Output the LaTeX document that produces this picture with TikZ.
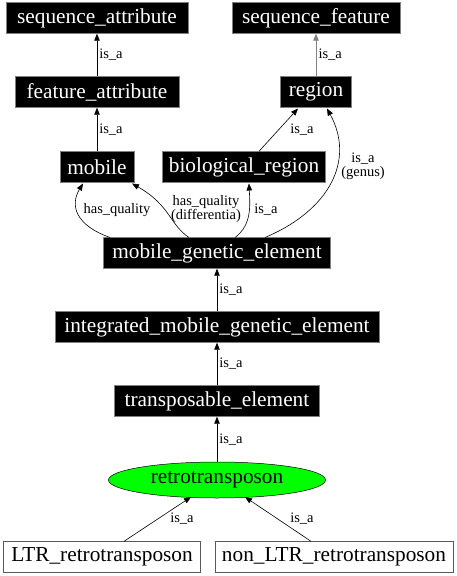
\documentclass[tikz,border=0pt]{standalone}
\usepackage{fontspec}
\setmainfont{Liberation Serif}
\usetikzlibrary{arrows.meta,shapes.geometric}
\begin{document}
\begin{tikzpicture}[x=1pt,y=-1pt,
  blk/.style={rectangle,fill=black,draw=gray,text=white,font=\fontsize{21.3}{24}\selectfont,inner sep=0pt,minimum height=31pt},
  wht/.style={rectangle,fill=white,draw=gray!70!black,text=black,font=\fontsize{21.3}{24}\selectfont,inner sep=0pt,minimum height=31pt},
  elab/.style={font=\fontsize{14.5}{12.5}\selectfont,inner sep=2pt,align=center},
  rel/.style={-{Triangle[length=7pt,width=5.5pt]},black,line width=0.6pt},
  relg/.style={-{Triangle[length=7pt,width=5.5pt]},gray,line width=1pt}]
\useasboundingbox (0,0) rectangle (457,576);
\fill[white] (0,0) rectangle (457,576);
\node[blk,minimum width=182pt] (sa) at (97,18) {sequence\_attribute};
\node[blk,minimum width=168pt] (sf) at (316,18) {sequence\_feature};
\node[blk,minimum width=164pt] (fa) at (97,92) {feature\_attribute};
\node[blk,minimum width=71pt] (rg) at (316,92) {region};
\node[blk,minimum width=74pt] (mo) at (97,167) {mobile};
\node[blk,minimum width=163pt] (br) at (244,167) {biological\_region};
\node[blk,minimum width=227pt] (mge) at (217,253) {mobile\_genetic\_element};
\node[blk,minimum width=324pt] (imge) at (217,327) {integrated\_mobile\_genetic\_element};
\node[blk,minimum width=205pt] (te) at (217,401) {transposable\_element};
\node[ellipse,fill=green,draw=black,line width=0.5pt,minimum width=217pt,minimum height=36pt,inner sep=0pt,font=\fontsize{21.3}{24}\selectfont] (rt) at (217,480) {retrotransposon};
\node[wht,minimum width=197pt] (ltr) at (102,557) {LTR\_retrotransposon};
\node[wht,minimum width=238pt] (nltr) at (334,557) {non\_LTR\_retrotransposon};

\draw[rel] (fa) -- node[elab,right] {is\_a} (sa);
\draw[relg] (rg) -- node[elab,right,text=black] {is\_a} (sf);
\draw[rel] (mo) -- node[elab,right] {is\_a} (fa);
\draw[rel] (br.north -| 259,0) -- (298,108.5);
\node[elab] (l1) at (302,130) {is\_a};
\coordinate (m1) at (110,237.5);
\coordinate (m2) at (189,237.5);
\coordinate (m3) at (235,237.5);
\coordinate (m4) at (265,237.5);
\draw[rel] (m1) .. controls (75,225) and (70,205) .. (83,183.5);
\node[elab] (l2) at (117,210) {has\_quality};
\draw[rel] (m2) .. controls (170,225) and (170,205) .. (132,183.5);
\node[elab] (l3) at (206,209) {has\_quality\\(differentia)};
\draw[rel] (m3) .. controls (252,225) and (250,205) .. (249,183.5);
\node[elab] (l4) at (266,210) {is\_a};
\draw[rel] (m4) .. controls (330,210) and (355,160) .. (327,108.5);
\node[elab] (l5) at (363,166) {is\_a\\[1.5pt](genus)};
\draw[rel] (imge) -- node[elab,right] {is\_a} (mge);
\draw[rel] (te) -- node[elab,right] {is\_a} (imge);
\draw[rel] (rt) -- node[elab,right] {is\_a} (te);
\draw[rel] (ltr.north -| 124,0) -- (191,497);
\node[elab] (l6) at (182,519) {is\_a};
\draw[rel] (nltr.north -| 311,0) -- (245,497);
\node[elab] (l7) at (302,519) {is\_a};
\end{tikzpicture}
\end{document}
